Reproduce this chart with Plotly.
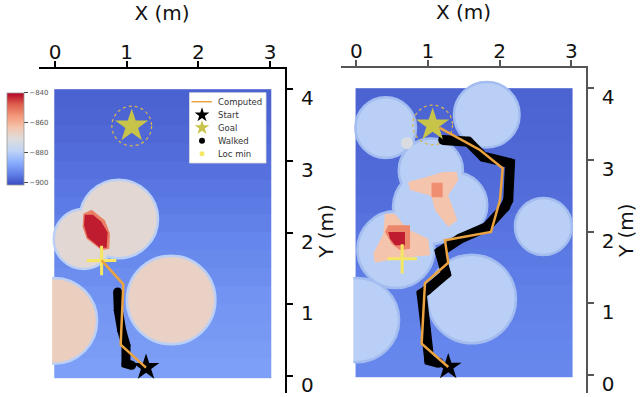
import plotly.graph_objects as go
from plotly.colors import sample_colorscale

# ---------- data ----------
x_ticks = [0, 1, 2, 3]
y_ticks = [0, 1, 2, 3, 4]
cbar_ticks = [-840, -860, -880, -900]
cbar_labels = ["\u2212840", "\u2212860", "\u2212880", "\u2212900"]
z_min, z_max = -901.5, -840

# background field, bottom row to top row
bg_x_edges = [-0.01, 3.02]
bg_y_edges = [-0.03, 0.25, 0.5, 0.75, 1.0, 1.25, 1.5, 1.75, 2.0, 2.25, 2.5, 2.75, 3.0, 3.25, 3.5, 3.75, 4.0]
left_bg_z = [[-889], [-889.5], [-890], [-890.5], [-891], [-891.8], [-892.5], [-893.2], [-894],
             [-894.8], [-895.5], [-896.2], [-897], [-897.5], [-898], [-898.3]]
right_bg_z = [[-893], [-893.2], [-893.5], [-893.8], [-894], [-894.5], [-895], [-895.5], [-896],
              [-896.5], [-897], [-897.3], [-897.5], [-897.8], [-898], [-898.2]]

# left panel circular patches
left_cx = [0.89, 0.40, 1.62, -0.01]
left_cy = [2.19, 1.91, 1.06, 0.77]
left_r = [0.53, 0.40, 0.60, 0.58]
left_z = [-869, -869, -867, -866]

# right panel circular patches
right_cx = [0.41, 1.82, 1.04, 1.37, 1.03, 0.553, 1.61, 0.01, 2.61, 0.707]
right_cy = [3.45, 3.63, 2.85, 2.37, 2.34, 1.75, 1.06, 0.767, 2.07, 3.235]
right_r = [0.405, 0.44, 0.43, 0.44, 0.50, 0.52, 0.60, 0.57, 0.38, 0.085]
right_z = [-879.5, -879.5, -879.5, -879.5, -879.5, -879.5, -879.5, -879.5, -879.5, -872]

# hot regions (outlines)
left_hot_outer_x = [0.395, 0.512, 0.697, 0.767, 0.757, 0.651, 0.442, 0.386]
left_hot_outer_y = [2.264, 2.32, 2.17, 1.985, 1.775, 1.753, 1.915, 2.078]
left_hot_inner_x = [0.415, 0.53, 0.645, 0.735, 0.72, 0.628, 0.455, 0.405]
left_hot_inner_y = [2.25, 2.25, 2.15, 2.0, 1.79, 1.79, 1.93, 2.1]

right_arm_x = [0.725, 0.934, 1.213, 1.40, 1.423, 1.283, 1.409, 1.283, 1.098, 1.052, 1.004, 0.749]
right_arm_y = [2.696, 2.747, 2.831, 2.835, 2.72, 2.51, 2.158, 2.064, 2.297, 2.483, 2.51, 2.58]
right_core_x = [1.05, 1.205, 1.205, 1.05]
right_core_y = [2.68, 2.68, 2.48, 2.48]
right_low_x = [0.40, 0.54, 0.703, 1.004, 1.028, 0.61, 0.26, 0.237, 0.377]
right_low_y = [2.25, 2.25, 2.04, 1.90, 1.669, 1.636, 1.566, 1.692, 1.971]
right_mid_x = [0.446, 0.749, 0.749, 0.61, 0.494, 0.40]
right_mid_y = [2.088, 2.088, 1.761, 1.739, 1.831, 1.994]
right_dark_x = [0.446, 0.679, 0.679, 0.54, 0.47]
right_dark_y = [1.994, 1.994, 1.809, 1.809, 1.90]

# paths
left_walk_x = [0.874, 0.883, 0.93, 0.99, 0.99, 1.07]
left_walk_y = [1.172, 0.916, 0.637, 0.428, 0.172, 0.149]
left_comp_x = [1.269, 0.916, 0.953, 0.651]
left_comp_y = [0.116, 0.437, 1.279, 1.613]

right_walk_x = [1.213, 1.562, 1.771, 2.144, 2.12, 2.074, 1.819, 1.446, 1.167, 1.251, 0.982, 0.912, 0.972, 1.018, 1.15]
right_walk_y = [3.278, 3.254, 3.045, 2.953, 2.44, 2.343, 2.064, 1.90, 1.716, 1.413, 1.181, 1.134, 0.623, 0.205, 0.17]
right_comp_x = [1.158, 1.725, 2.042, 2.004, 1.879, 1.237, 1.283, 0.958, 0.912, 1.283]
right_comp_y = [3.449, 3.138, 2.883, 2.44, 1.994, 1.878, 1.566, 1.283, 0.436, 0.112]

left_start, left_goal, left_locmin = (1.27, 0.12), (1.07, 3.487), (0.65, 1.61)
right_start, right_goal, right_locmin = (1.283, 0.112), (1.065, 3.487), (0.64, 1.62)
goal_radius = 0.277

legend_labels = ["Computed", "Start", "Goal", "Walked", "Loc min"]

# ---------- styling ----------
W, H = 640, 397
B = 4               # bottom margin, keeps the lowest y label inside the plot's reserved space
PH = H - B          # plot area height in pixels
ORANGE, GOAL, YELLOW = "#eaa33e", "#c8c449", "#f5e663"
coolwarm = [[0, "rgb(59,76,192)"], [0.125, "rgb(98,130,234)"], [0.25, "rgb(141,176,254)"],
            [0.375, "rgb(192,212,245)"], [0.5, "rgb(221,221,221)"], [0.625, "rgb(245,196,173)"],
            [0.75, "rgb(244,152,122)"], [0.875, "rgb(222,96,77)"], [1, "rgb(180,4,38)"]]


def zc(z):
    return sample_colorscale(coolwarm, (z - z_min) / (z_max - z_min))[0]


fig = go.Figure()
fig.add_trace(go.Heatmap(x=bg_x_edges, y=bg_y_edges, z=left_bg_z, coloraxis="coloraxis",
                         xaxis="x", yaxis="y", hoverinfo="skip"))
fig.add_trace(go.Heatmap(x=bg_x_edges, y=bg_y_edges, z=right_bg_z, coloraxis="coloraxis",
                         xaxis="x2", yaxis="y2", hoverinfo="skip"))


def poly(xs, ys, z, ax):
    fig.add_trace(go.Scatter(x=xs, y=ys, mode="lines", fill="toself", fillcolor=zc(z),
                             line=dict(width=0, color=zc(z)), xaxis="x" + ax, yaxis="y" + ax,
                             showlegend=False, hoverinfo="skip"))


poly(left_hot_outer_x, left_hot_outer_y, -852, "3")
poly(left_hot_inner_x, left_hot_inner_y, -842, "3")
poly(right_arm_x, right_arm_y, -863, "4")
poly(right_core_x, right_core_y, -854, "4")
poly(right_low_x, right_low_y, -863, "4")
poly(right_mid_x, right_mid_y, -853, "4")
poly(right_dark_x, right_dark_y, -842, "4")


def marks(ax, wx, wy, cx, cy, start, goal, locmin, wid):
    a = dict(xaxis="x" + ax, yaxis="y" + ax, showlegend=False, hoverinfo="skip")
    fig.add_trace(go.Scatter(x=wx, y=wy, mode="lines+markers", line=dict(color="black", width=wid),
                             marker=dict(color="black", size=wid), name="Walked", **a))
    fig.add_trace(go.Scatter(x=[start[0]], y=[start[1]], mode="markers", name="Start",
                             marker=dict(symbol="star", size=20, color="black"), **a))
    fig.add_trace(go.Scatter(x=[goal[0]], y=[goal[1]], mode="markers", name="Goal",
                             marker=dict(symbol="star", size=25, color=GOAL), **a))
    fig.add_trace(go.Scatter(x=[locmin[0]], y=[locmin[1]], mode="markers", name="Loc min",
                             marker=dict(symbol="cross-thin", size=21,
                                         line=dict(color=YELLOW, width=3)), **a))
    fig.add_trace(go.Scatter(x=cx, y=cy, mode="lines", name="Computed",
                             line=dict(color=ORANGE, width=2.5), **a))


marks("3", left_walk_x, left_walk_y, left_comp_x, left_comp_y, left_start, left_goal, left_locmin, 9)
marks("4", right_walk_x, right_walk_y, right_comp_x, right_comp_y, right_start, right_goal, right_locmin, 10)

# legend drawn in a hidden full-figure subplot whose units are picture pixels
row_y = [101.7, 115, 127.7, 140.7, 153.7]
key_a = dict(xaxis="x5", yaxis="y5", showlegend=False, hoverinfo="skip")
fig.add_trace(go.Scatter(x=[191.5, 212], y=[row_y[0], row_y[0]], mode="lines",
                         line=dict(color=ORANGE, width=1.5), **key_a))
for (sym, size, col), yy in zip([("star", 11, "black"), ("star", 11, GOAL),
                                 ("circle", 6, "black"), ("circle", 5, YELLOW)], row_y[1:]):
    fig.add_trace(go.Scatter(x=[202], y=[yy], mode="markers",
                             marker=dict(symbol=sym, size=size, color=col), **key_a))

shapes = []


def circles(ax, cxs, cys, rs, zs, halo):
    # rims first, fills after, so overlapping patches merge as they do in the picture
    for cx, cy, r in zip(cxs, cys, rs):
        shapes.append(dict(type="circle", xref="x" + ax, yref="y" + ax, layer="below",
                           x0=cx - r, x1=cx + r, y0=cy - r, y1=cy + r,
                           fillcolor=halo, line=dict(color=halo, width=5)))
    for cx, cy, r, z in zip(cxs, cys, rs, zs):
        shapes.append(dict(type="circle", xref="x" + ax, yref="y" + ax, layer="below",
                           x0=cx - r, x1=cx + r, y0=cy - r, y1=cy + r,
                           fillcolor=zc(z), line=dict(width=0)))


circles("3", left_cx, left_cy, left_r, left_z, "#bcd0f5")
circles("4", right_cx, right_cy, right_r, right_z, "#a4bdf0")
for ax, rng in (("3", (-0.223, -0.04)), ("4", (-0.213, -0.04))):
    shapes.append(dict(type="rect", xref="x" + ax, yref="y" + ax, layer="below",
                       x0=rng[0], x1=rng[1], y0=0, y1=1.6, fillcolor="white", line=dict(width=0)))
for ax, g in (("3", left_goal), ("4", right_goal)):
    shapes.append(dict(type="circle", xref="x" + ax, yref="y" + ax, layer="below",
                       x0=g[0] - goal_radius, x1=g[0] + goal_radius,
                       y0=g[1] - goal_radius, y1=g[1] + goal_radius,
                       line=dict(color="#dcb64c", width=1.2, dash="3px,3px")))

shapes.append(dict(type="rect", xref="x5", yref="y5", layer="below",
                   x0=189.5, x1=266, y0=163, y1=92.7,
                   fillcolor="white", line=dict(color="#dddddd", width=0.8)))

annotations = []
for lab, yy in zip(legend_labels, row_y):
    annotations.append(dict(text=lab, x=215.5, y=yy, xref="x5", yref="y5", showarrow=False,
                            xanchor="left", yanchor="middle", font=dict(size=8.5, color="#333333")))

L_dom_x, L_dom_y = [39 / W, 285 / W], [0, 1 - 69 / PH]
R_dom_x, R_dom_y = [341 / W, 586 / W], [0, 1 - 67.5 / PH]
L_rx, L_ry = [-0.223, 3.208], [(376 - PH) / 71.7, (376 - 69) / 71.7]
R_rx, R_ry = [-0.213, 3.204], [(375 - PH) / 71.7, (375 - 67.5) / 71.7]
TXT = dict(size=20, color="#111111", family="DejaVu Sans")


def vis_x(dom, rng, anchor, col, w):
    return dict(domain=dom, range=rng, side="top", anchor=anchor, tickvals=x_ticks, showgrid=False,
                zeroline=False, showline=True, linecolor=col, linewidth=w, ticks="outside", ticklen=6,
                tickcolor=col, tickwidth=1.5, tickfont=TXT, ticklabelstandoff=-6,
                title=dict(text="X (m)", font=TXT, standoff=14))


def vis_y(dom, rng, anchor, col, w):
    return dict(domain=dom, range=rng, side="right", anchor=anchor, tickvals=y_ticks, showgrid=False,
                zeroline=False, showline=True, linecolor=col, linewidth=w, ticks="outside", ticklen=6,
                tickcolor=col, tickwidth=1.5, tickfont=TXT, ticklabelstandoff=4,
                ticklabelshift=9,
                title=dict(text="Y (m)", font=TXT, standoff=5))


fig.update_layout(
    width=W, height=H, autosize=False, margin=dict(l=0, r=0, t=0, b=B),
    paper_bgcolor="white", plot_bgcolor="rgba(0,0,0,0)", showlegend=False,
    font=dict(family="DejaVu Sans"),
    xaxis=dict(domain=L_dom_x, range=L_rx, visible=False, anchor="y"),
    yaxis=dict(domain=L_dom_y, range=L_ry, visible=False, anchor="x"),
    xaxis2=dict(domain=R_dom_x, range=R_rx, visible=False, anchor="y2"),
    yaxis2=dict(domain=R_dom_y, range=R_ry, visible=False, anchor="x2"),
    xaxis3=vis_x(L_dom_x, L_rx, "y3", "black", 2),
    yaxis3=vis_y(L_dom_y, L_ry, "x3", "black", 2),
    xaxis4=vis_x(R_dom_x, R_rx, "y4", "#555555", 1.5),
    yaxis4=vis_y(R_dom_y, R_ry, "x4", "#555555", 1.5),
    xaxis5=dict(domain=[0, 1], range=[0, W], visible=False, anchor="y5"),
    yaxis5=dict(domain=[0, 1], range=[PH, 0], visible=False, anchor="x5"),
    coloraxis=dict(cmin=z_min, cmax=z_max, colorscale=coolwarm,
                   colorbar=dict(x=7 / W, xanchor="left", y=1 - 92.7 / PH, yanchor="top",
                                 thickness=17, thicknessmode="pixels", len=92, lenmode="pixels",
                                 xpad=0, ypad=0, outlinecolor="#999999", outlinewidth=0.8,
                                 tickvals=cbar_ticks, ticktext=cbar_labels, ticks="outside", ticklen=4,
                                 tickfont=dict(size=7, color="#555555"))),
    shapes=shapes, annotations=annotations,
)

fig.write_html("out.html", config=dict(displayModeBar=False), post_script="document.body.style.margin='0';")
